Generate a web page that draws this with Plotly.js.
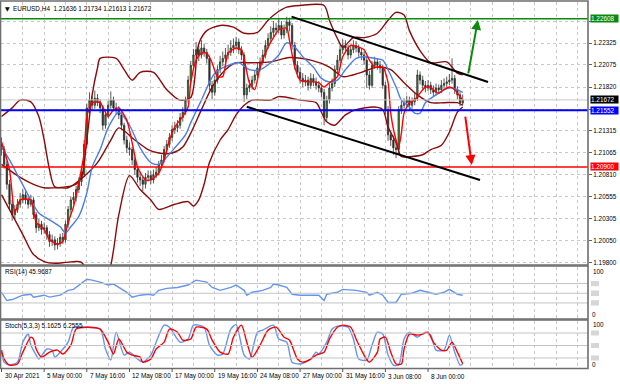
<!DOCTYPE html>
<html><head><meta charset="utf-8">
<script src="https://cdn.plot.ly/plotly-3.0.1.min.js"></script>
<style>html,body{margin:0;padding:0;background:#fff;}#chart{width:620px;height:384px;}</style>
</head><body><div id="chart"></div>
<script>
// ---------- DATA ----------
const open = [1.2116,1.2110,1.2093,1.2070,1.2047,1.2035,1.2041,1.2047,1.2052,1.2058,
1.2052,1.2047,1.2052,1.2035,1.2020,1.2024,1.2018,1.2020,1.2012,1.2004,
1.2006,1.2000,1.2002,1.2009,1.2006,1.2024,1.2041,1.2052,1.2055,1.2064,
1.2073,1.2081,1.2116,1.2158,1.2167,1.2161,1.2169,1.2165,1.2158,1.2138,
1.2150,1.2161,1.2167,1.2158,1.2156,1.2150,1.2138,1.2121,1.2112,1.2110,
1.2098,1.2087,1.2078,1.2075,1.2070,1.2078,1.2080,1.2075,1.2081,1.2084,
1.2093,1.2098,1.2110,1.2116,1.2124,1.2133,1.2135,1.2138,1.2147,1.2153,
1.2167,1.2190,1.2207,1.2219,1.2225,1.2219,1.2227,1.2222,1.2215,1.2184,
1.2176,1.2190,1.2202,1.2211,1.2215,1.2219,1.2222,1.2227,1.2230,1.2234,
1.2225,1.2219,1.2173,1.2181,1.2184,1.2190,1.2196,1.2204,1.2211,1.2219,
1.2230,1.2238,1.2245,1.2250,1.2248,1.2253,1.2242,1.2248,1.2257,1.2253,
1.2230,1.2207,1.2199,1.2192,1.2188,1.2190,1.2184,1.2192,1.2188,1.2184,
1.2181,1.2176,1.2147,1.2167,1.2181,1.2186,1.2202,1.2213,1.2225,1.2230,
1.2227,1.2219,1.2225,1.2230,1.2227,1.2222,1.2219,1.2213,1.2196,1.2184,
1.2207,1.2211,1.2207,1.2204,1.2184,1.2156,1.2127,1.2121,1.2112,1.2110,
1.2156,1.2161,1.2164,1.2167,1.2161,1.2165,1.2169,1.2196,1.2190,1.2184,
1.2181,1.2184,1.2179,1.2176,1.2181,1.2179,1.2184,1.2186,1.2188,1.2190,
1.2192,1.2179,1.2173,1.21636];
const high = [1.2124,1.2114,1.2097,1.2075,1.2052,1.2046,1.2053,1.2060,1.2064,1.2062,
1.2056,1.2058,1.2055,1.2038,1.2030,1.2028,1.2026,1.2023,1.2016,1.2012,
1.2010,1.2008,1.2013,1.2014,1.2028,1.2045,1.2056,1.2061,1.2068,1.2078,
1.2086,1.2121,1.2163,1.2176,1.2172,1.2178,1.2174,1.2168,1.2161,1.2154,
1.2166,1.2177,1.2171,1.2164,1.2160,1.2153,1.2141,1.2126,1.2118,1.2113,
1.2101,1.2091,1.2084,1.2079,1.2083,1.2086,1.2085,1.2087,1.2090,1.2097,
1.2104,1.2114,1.2121,1.2129,1.2138,1.2142,1.2144,1.2152,1.2159,1.2171,
1.2195,1.2212,1.2226,1.2234,1.2230,1.2236,1.2232,1.2226,1.2218,1.2189,
1.2195,1.2207,1.2218,1.2223,1.2227,1.2231,1.2236,1.2238,1.2240,1.2238,
1.2229,1.2222,1.2186,1.2190,1.2195,1.2201,1.2210,1.2216,1.2225,1.2236,
1.2244,1.2252,1.2258,1.2256,1.2262,1.2258,1.2254,1.2263,1.2262,1.2256,
1.2234,1.2212,1.2205,1.2198,1.2196,1.2194,1.2198,1.2197,1.2193,1.2189,
1.2186,1.2180,1.2172,1.2186,1.2192,1.2207,1.2219,1.2231,1.2237,1.2236,
1.2231,1.2231,1.2236,1.2235,1.2231,1.2227,1.2223,1.2217,1.2201,1.2212,
1.2217,1.2215,1.2212,1.2208,1.2188,1.2160,1.2132,1.2126,1.2118,1.2160,
1.2166,1.2169,1.2172,1.2171,1.2170,1.2175,1.2202,1.2200,1.2195,1.2189,
1.2190,1.2188,1.2184,1.2186,1.2185,1.2190,1.2192,1.2194,1.2197,1.2215,
1.2196,1.2183,1.2177,1.21734];
const low = [1.2103,1.2088,1.2064,1.2041,1.2028,1.2030,1.2037,1.2043,1.2048,1.2047,
1.2042,1.2044,1.2030,1.2014,1.2016,1.2012,1.2013,1.2006,1.1998,1.1999,
1.1994,1.1995,1.1998,1.2001,1.2003,1.2020,1.2036,1.2047,1.2050,1.2060,
1.2068,1.2078,1.2112,1.2152,1.2155,1.2157,1.2160,1.2152,1.2132,1.2134,
1.2146,1.2157,1.2154,1.2150,1.2145,1.2133,1.2116,1.2106,1.2103,1.2092,
1.2081,1.2072,1.2068,1.2062,1.2065,1.2073,1.2070,1.2071,1.2077,1.2080,
1.2089,1.2095,1.2106,1.2112,1.2120,1.2128,1.2130,1.2134,1.2142,1.2150,
1.2164,1.2186,1.2203,1.2214,1.2212,1.2215,1.2217,1.2209,1.2178,1.2168,
1.2172,1.2186,1.2198,1.2206,1.2210,1.2214,1.2218,1.2221,1.2225,1.2220,
1.2213,1.2165,1.2168,1.2176,1.2179,1.2186,1.2192,1.2200,1.2207,1.2215,
1.2226,1.2234,1.2240,1.2242,1.2244,1.2237,1.2238,1.2244,1.2246,1.2225,
1.2202,1.2193,1.2186,1.2182,1.2183,1.2178,1.2180,1.2183,1.2179,1.2176,
1.2170,1.2138,1.2143,1.2163,1.2177,1.2182,1.2198,1.2209,1.2220,1.2222,
1.2214,1.2215,1.2221,1.2222,1.2217,1.2213,1.2208,1.2181,1.2179,1.2181,
1.2203,1.2202,1.2198,1.2180,1.2150,1.2120,1.2114,1.2104,1.2100,1.2105,
1.2151,1.2157,1.2160,1.2156,1.2157,1.2161,1.2166,1.2185,1.2179,1.2176,
1.2177,1.2174,1.2171,1.2172,1.2174,1.2175,1.2180,1.2182,1.2184,1.2186,
1.2174,1.2168,1.2160,1.21613];
const close = [1.2110,1.2093,1.2070,1.2047,1.2035,1.2041,1.2047,1.2052,1.2058,1.2052,
1.2047,1.2052,1.2035,1.2020,1.2024,1.2018,1.2020,1.2012,1.2004,1.2006,
1.2000,1.2002,1.2009,1.2006,1.2024,1.2041,1.2052,1.2055,1.2064,1.2073,
1.2081,1.2116,1.2158,1.2167,1.2161,1.2169,1.2165,1.2158,1.2138,1.2150,
1.2161,1.2167,1.2158,1.2156,1.2150,1.2138,1.2121,1.2112,1.2110,1.2098,
1.2087,1.2078,1.2075,1.2070,1.2078,1.2080,1.2075,1.2081,1.2084,1.2093,
1.2098,1.2110,1.2116,1.2124,1.2133,1.2135,1.2138,1.2147,1.2153,1.2167,
1.2190,1.2207,1.2219,1.2225,1.2219,1.2227,1.2222,1.2215,1.2184,1.2176,
1.2190,1.2202,1.2211,1.2215,1.2219,1.2222,1.2227,1.2230,1.2234,1.2225,
1.2219,1.2173,1.2181,1.2184,1.2190,1.2196,1.2204,1.2211,1.2219,1.2230,
1.2238,1.2245,1.2250,1.2248,1.2253,1.2242,1.2248,1.2257,1.2253,1.2230,
1.2207,1.2199,1.2192,1.2188,1.2190,1.2184,1.2192,1.2188,1.2184,1.2181,
1.2176,1.2147,1.2167,1.2181,1.2186,1.2202,1.2213,1.2225,1.2230,1.2227,
1.2219,1.2225,1.2230,1.2227,1.2222,1.2219,1.2213,1.2196,1.2184,1.2207,
1.2211,1.2207,1.2204,1.2184,1.2156,1.2127,1.2121,1.2112,1.2110,1.2156,
1.2161,1.2164,1.2167,1.2161,1.2165,1.2169,1.2196,1.2190,1.2184,1.2181,
1.2184,1.2179,1.2176,1.2181,1.2179,1.2184,1.2186,1.2188,1.2190,1.2192,
1.2179,1.2173,1.2164,1.21672];

// fast MA (red)
const redBar = [0,3,5,7,11,13,16,18,21,23,25,27,29,31,32,34,37,40,42,44,47,49,51,54,56,59,61,63,65,68,70,71,73,75,77,79,81,83,85,88,90,91,93,95,97,100,102,104,107,108,110,112,115,117,119,121,123,126,128,131,134,136,138,140,143,145,146,148,149,150,151,153,155,157,159,161,163,164,166,168,170,172,173];
const redVal = [1.2119,1.2087,1.2037,1.2052,1.2052,1.2026,1.2018,1.2006,1.2001,1.2004,
1.2026,1.2044,1.2072,1.2106,1.2148,1.2164,1.2164,1.2148,1.2156,1.2158,
1.2144,1.2118,1.2090,1.2075,1.2075,1.2083,1.2098,1.2121,1.2136,1.2148,
1.2159,1.2187,1.2213,1.2221,1.2221,1.2210,1.2194,1.2194,1.2221,1.2227,
1.2225,1.2215,1.2187,1.2179,1.2205,1.2228,1.2239,1.2248,1.2250,1.2236,
1.2205,1.2190,1.2188,1.2188,1.2187,1.2182,1.2187,1.2194,1.2217,1.2230,
1.2228,1.2225,1.2213,1.2205,1.2205,1.2187,1.2152,1.2121,1.2113,1.2129,
1.2152,1.2164,1.2167,1.2175,1.2182,1.2182,1.2176,1.2175,1.2179,1.2182,
1.2179,1.2171,1.2167];
// slower MA (blue)
const blueBar = [0,3,7,11,14,18,22,24,26,29,32,34,37,40,44,48,52,56,59,61,65,69,71,75,80,85,89,93,97,101,104,107,110,113,117,120,123,126,129,133,136,140,143,145,148,150,153,155,157,159,162,164,166,169,171,173];
const blueVal = [1.2113,1.2098,1.2075,1.2052,1.2037,1.2029,1.2021,1.2014,1.2021,1.2033,
1.2060,1.2090,1.2110,1.2135,1.2153,1.2138,1.2112,1.2095,1.2093,1.2098,
1.2112,1.2127,1.2141,1.2167,1.2198,1.2207,1.2210,1.2202,1.2202,1.2210,
1.2219,1.2233,1.2228,1.2217,1.2205,1.2192,1.2188,1.2190,1.2202,1.2215,
1.2217,1.2215,1.2213,1.2202,1.2182,1.2167,1.2159,1.2152,1.2152,1.2164,
1.2171,1.2175,1.2179,1.2181,1.2179,1.2176];
// dark red envelope: upper, lower, slow line
const upBar = [0,4,7,11,14,16,18,20,24,28,30,32,34,36,37,43,46,49,52,57,62,67,71,74,77,82,87,91,96,100,103,107,112,121,123,126,128,132,136,141,145,148,151,153,157,161,167,171,173];
const upVal = [1.2148,1.2158,1.2167,1.2165,1.2148,1.2121,1.2087,1.2067,1.2067,1.2070,
1.2078,1.2121,1.2173,1.2204,1.2215,1.2215,1.2202,1.2190,1.2199,1.2199,
1.2179,1.2167,1.2170,1.2232,1.2247,1.2253,1.2251,1.2244,1.2245,1.2259,
1.2267,1.2274,1.2276,1.2276,1.2259,1.2238,1.2228,1.2239,1.2239,1.2244,
1.2259,1.2268,1.2265,1.2247,1.2224,1.2210,1.2211,1.2198,1.2196];
const loBar = [0,4,8,12,16,20,24,28,30,32,35,40,44,48,52,56,59,65,70,72,74,76,78,82,85,88,91,94,101,104,112,118,120,122,125,129,133,140,143,145,148,150,154,158,161,165,168,171,173];
const loVal = [1.2058,1.2035,1.2012,1.1989,1.1981,1.1979,1.1980,1.1981,1.1980,1.1970,
1.1949,1.1966,1.2035,1.2080,1.2064,1.2052,1.2041,1.2047,1.2050,1.2045,
1.2052,1.2070,1.2095,1.2121,1.2133,1.2150,1.2161,1.2167,1.2167,1.2171,
1.2167,1.2164,1.2153,1.2142,1.2138,1.2150,1.2156,1.2159,1.2156,1.2136,
1.2118,1.2102,1.2102,1.2104,1.2110,1.2115,1.2130,1.2153,1.2159];
const slowBar = [0,7,12,16,21,25,29,36,41,44,50,55,59,64,68,71,75,79,84,88,93,101,108,116,123,128,135,141,146,151,156,161,166,171,173];
const slowVal = [1.2093,1.2078,1.2070,1.2066,1.2066,1.2066,1.2074,1.2095,1.2121,1.2135,
1.2121,1.2110,1.2106,1.2106,1.2113,1.2129,1.2156,1.2182,1.2202,1.2210,
1.2210,1.2211,1.2216,1.2213,1.2205,1.2194,1.2199,1.2205,1.2202,1.2187,
1.2173,1.2164,1.2164,1.2164,1.2161];
// RSI(14)
const rsiBar = [0,2,4,8,11,12,16,18,22,25,27,29,32,34,37,40,42,44,47,49,52,55,57,59,62,66,70,73,77,79,82,86,88,91,92,94,98,101,102,104,107,109,112,116,119,121,122,126,128,133,137,138,141,143,145,148,150,154,157,160,163,166,168,171,173];
const rsiVal = [52,35,37,46,48,42,46,42,46,56,58,67,79,77,73,67,69,62,52,42,46,48,46,56,60,62,67,77,73,62,56,62,67,56,46,52,56,62,69,67,62,48,46,46,46,35,48,52,58,56,52,46,52,46,31,31,48,50,56,52,48,52,58,48,46];
// Stochastic(5,3,3)
const stochKBar = [0,1,3,6,8,10,11,13,14,17,19,20,22,25,27,31,37,39,41,43,46,48,51,53,56,58,61,63,67,70,72,76,78,81,83,86,88,91,93,96,98,102,104,107,109,112,116,118,119,122,124,126,130,132,134,137,139,141,143,145,147,149,151,153,156,159,161,163,166,168,170,172,173];
const stochKVal = [34,10,3,10,58,77.5,51,27,17.5,41.5,39,22,34,58,94,94,89.5,41.5,15,82,27,34,17.5,10,27,58,99,94,58,65.5,99,94,51,27,29.5,89.5,100,27,17.5,82,87,99,65.5,58,10,5.5,17.5,34,29.5,58,89.5,96.5,94,65.5,17.5,15,51,82,77.5,27,3,3,65.5,82,70,82,75,39,39,75,34,3,5];
const stochDBar = [0,1,3,6,8,11,12,13,15,18,21,23,26,28,32,37,40,42,44,47,49,52,53,56,58,61,63,66,68,71,73,77,79,82,85,87,90,92,94,97,100,103,106,108,111,113,116,118,121,123,126,128,131,133,136,138,141,142,144,146,148,150,151,153,156,158,160,162,165,167,169,171,173];
const stochDVal = [39,17.5,3,5.5,34,70,65.5,41.5,22,34,39,29.5,51,89.5,94,89.5,58,29.5,65.5,34,27,22,10,17.5,41.5,58,89.5,82,63,65.5,94,89.5,63,34,29.5,70,99,58,22,51,87,94,70,63,17.5,10,17.5,27,34,65.5,94,99,94,65.5,27,10,34,65.5,70,34,5.5,5.5,41.5,77.5,75,77.5,82,58,39,39,58,34,6];

// axis labels
const priceTicks = [1.19800,1.20050,1.20305,1.20555,1.20810,1.21065,1.21315,1.21565,1.21820,1.22075,1.22325,1.22575];
const priceTickText = ['1.19800','1.20050','1.20305','1.20555','1.20810','1.21065','1.21315','','1.21820','1.22075','1.22325',''];
const timeTickBars = [0,16,32,48,64,80,96,112,128,144,160];
const timeTickText = ['30 Apr 2021','5 May 00:00','7 May 16:00','12 May 08:00','17 May 00:00','19 May 16:00','24 May 08:00','27 May 00:00','31 May 16:00','3 Jun 08:00','8 Jun 00:00'];
const gridBars = [0,8,16,24,32,40,48,56,64,72,80,88,96,104,112,120,128,136,144,152,160,168,176,184,192,200,208,216];
// marked levels
const levelGreen = 1.22608, levelBlue = 1.21552, levelRed = 1.20900, lastPrice = 1.21672;
const rsiLevels = [70,50,30];
const stochLevels = [80,50,20];

// ---------- DRAWING ----------
const W=620,H=384,ML=1,MR=32,PW=W-ML-MR;
const px = x => (x-ML)/PW;
const py = y => 1 - y/H;
const FONT = 'Liberation Sans, Arial, sans-serif';
const DARKRED = '#8b0a0a';
const bars = open.map((_, i) => i);

const traces = [
 {type:'candlestick', x:bars, open:open, high:high, low:low, close:close, xaxis:'x', yaxis:'y',
  increasing:{line:{color:'#303030',width:0.8}, fillcolor:'#2ca02c'},
  decreasing:{line:{color:'#303030',width:0.8}, fillcolor:'#262626'},
  whiskerwidth:0, hoverinfo:'skip', showlegend:false},
 {type:'scatter', mode:'lines', x:upBar, y:upVal, line:{color:DARKRED,width:1.4,shape:'spline',smoothing:0.8}, xaxis:'x', yaxis:'y', hoverinfo:'skip'},
 {type:'scatter', mode:'lines', x:loBar, y:loVal, line:{color:DARKRED,width:1.4,shape:'spline',smoothing:0.8}, xaxis:'x', yaxis:'y', hoverinfo:'skip'},
 {type:'scatter', mode:'lines', x:slowBar, y:slowVal, line:{color:DARKRED,width:1.4,shape:'spline',smoothing:0.8}, xaxis:'x', yaxis:'y', hoverinfo:'skip'},
 {type:'scatter', mode:'lines', x:blueBar, y:blueVal, line:{color:'#4a7fe6',width:1.4,shape:'spline',smoothing:0.8}, xaxis:'x', yaxis:'y', hoverinfo:'skip'},
 {type:'scatter', mode:'lines', x:redBar, y:redVal, line:{color:'#ff0000',width:1.4,shape:'spline',smoothing:0.6}, xaxis:'x', yaxis:'y', hoverinfo:'skip'},
 {type:'scatter', mode:'lines', x:rsiBar, y:rsiVal, line:{color:'#6495ed',width:1.4}, xaxis:'x', yaxis:'y2', hoverinfo:'skip'},
 {type:'scatter', mode:'lines', x:stochKBar, y:stochKVal, line:{color:'#6495ed',width:1.4,shape:'spline',smoothing:0.7}, xaxis:'x', yaxis:'y3', hoverinfo:'skip'},
 {type:'scatter', mode:'lines', x:stochDBar, y:stochDVal, line:{color:'#ff0000',width:1.4,shape:'spline',smoothing:0.7}, xaxis:'x', yaxis:'y3', hoverinfo:'skip'}
];

const shapes = [];
const hline = (y, color, width) => shapes.push({type:'line', xref:'paper', x0:0, x1:1, yref:'y', y0:y, y1:y, line:{color:color,width:width}});
hline(lastPrice, '#c8c8c8', 1);
hline(levelGreen, '#0a8a0a', 1.5);
hline(levelRed, '#ff0000', 1.5);
hline(levelBlue, '#0000ff', 2);
// trend channel
shapes.push({type:'line', xref:'x', yref:'y', x0:108.8, y0:1.22632, x1:182.5, y1:1.21879, line:{color:'#000',width:2}});
shapes.push({type:'line', xref:'x', yref:'y', x0:92.0, y0:1.21594, x1:179.5, y1:1.20749, line:{color:'#000',width:2}});
// indicator levels + grey level boxes
rsiLevels.forEach(v => {
  shapes.push({type:'line', xref:'paper', x0:0, x1:1, yref:'y2', y0:v, y1:v, line:{color:'#c4c4c4',width:1}});
  shapes.push({type:'rect', xref:'paper', x0:px(591), x1:px(599), yref:'y2', y0:v-5.5, y1:v+5.5, fillcolor:'#d6d6d6', line:{width:0}});
});
stochLevels.forEach(v => {
  shapes.push({type:'line', xref:'paper', x0:0, x1:1, yref:'y3', y0:v, y1:v, line:{color:'#c4c4c4',width:1}});
  shapes.push({type:'rect', xref:'paper', x0:px(591), x1:px(599), yref:'y3', y0:v-6, y1:v+6, fillcolor:'#d6d6d6', line:{width:0}});
});
// panel frames
[[1,265],[266,319],[320,368.5]].forEach(([t,b]) => {
  shapes.push({type:'rect', xref:'paper', yref:'paper', x0:px(0.5), x1:px(588), y0:py(b), y1:py(t), line:{color:'#6e6e6e',width:1.6}, fillcolor:'rgba(0,0,0,0)'});
});
// time tick marks
timeTickBars.forEach(b => shapes.push({type:'line', xref:'x', yref:'paper', x0:b, x1:b, y0:py(368.5), y1:py(372), line:{color:'#555',width:1}}));

const annotations = [];
const txt = (x, y, text, opts={}) => annotations.push(Object.assign({xref:'paper', yref:'paper', x:px(x), y:py(y), text:text, showarrow:false, xanchor:'left', yanchor:'middle', font:{family:FONT,size:6.4,color:'#000'}}, opts));
txt(2.5, 8, '▼', {font:{family:'DejaVu Sans',size:6,color:'#000'}});
txt(11, 8, 'EURUSD,H4  1.21636 1.21734 1.21613 1.21672');
txt(3, 271.5, 'RSI(14) 45.9687');
txt(3, 326, 'Stoch(5,3,3) 5.1625 6.2555');
txt(591, 271, '100'); txt(590, 314, '0');
txt(591, 324.5, '100'); txt(590, 364, '0');
timeTickBars.forEach((b, i) => annotations.push({xref:'x', yref:'paper', x:b, y:py(376), text:timeTickText[i], showarrow:false, xanchor:'left', yanchor:'middle', xshift:1, font:{family:FONT,size:6.4,color:'#000'}}));
// price boxes
const box = (y, label, color) => annotations.push({xref:'paper', yref:'y', x:1, xshift:2, y:y, text:label, showarrow:false, xanchor:'left', yanchor:'middle', align:'left', width:27, height:7, bgcolor:color, borderpad:0, font:{family:FONT,size:6.4,color:'#ffffff'}});
box(levelGreen, '1.22608', '#0a8a0a');
box(lastPrice, '1.21672', '#000000');
box(levelBlue, '1.21552', '#0000ff');
box(levelRed, '1.20900', '#ff0000');
// forecast arrows
annotations.push({xref:'x', yref:'y', axref:'x', ayref:'y', x:178.7, y:1.22594, ax:175.0, ay:1.21960, showarrow:true, arrowhead:2, arrowsize:1, arrowwidth:2, arrowcolor:'#0a8a0a', text:''});
annotations.push({xref:'x', yref:'y', axref:'x', ayref:'y', x:176.4, y:1.20922, ax:173.9, ay:1.21498, showarrow:true, arrowhead:2, arrowsize:1, arrowwidth:2, arrowcolor:'#ff0000', text:''});

const gridStyle = {showgrid:true, gridcolor:'#c8c8c8', griddash:'3px,3px', gridwidth:1};
const layout = {
  width:W, height:H, margin:{l:ML, r:MR, t:0, b:0}, paper_bgcolor:'#ffffff', plot_bgcolor:'#ffffff',
  showlegend:false, font:{family:FONT, size:6.4, color:'#000'},
  xaxis:Object.assign({range:[-0.19,220], tickvals:gridBars, showticklabels:false, ticks:'', zeroline:false, showline:false, rangeslider:{visible:false}, anchor:'y3', fixedrange:true}, gridStyle),
  yaxis:Object.assign({domain:[py(265),py(2)], range:[1.1977,1.2280], side:'right', tickvals:priceTicks, ticktext:priceTickText, ticks:'outside', ticklen:3, tickcolor:'#606060', tickfont:{family:FONT,size:6.4,color:'#000'}, zeroline:false, showline:false, fixedrange:true}, gridStyle),
  yaxis2:{domain:[py(318.5),py(266.5)], range:[-2.1,105.2], showgrid:false, showticklabels:false, zeroline:false, ticks:'', fixedrange:true},
  yaxis3:{domain:[py(368),py(320.5)], range:[-4.1,110.1], showgrid:false, showticklabels:false, zeroline:false, ticks:'', fixedrange:true},
  shapes:shapes, annotations:annotations
};
Plotly.newPlot('chart', traces, layout, {staticPlot:true, displayModeBar:false});
</script></body></html>
